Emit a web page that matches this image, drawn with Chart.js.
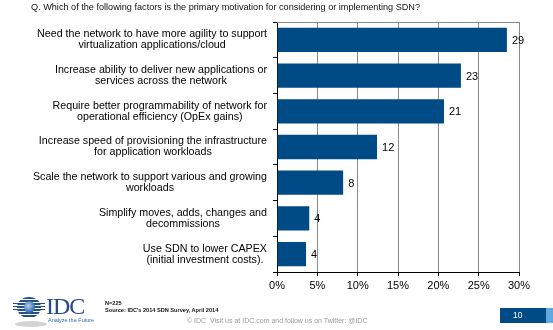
<!DOCTYPE html>
<html>
<head>
<meta charset="utf-8">
<script src="https://cdn.jsdelivr.net/npm/chart.js@4.4.1/dist/chart.umd.min.js"></script>
<style>
    body { margin: 0; background: #fff; font-family: "Liberation Sans", Arial, sans-serif; }
    #wrap { position: relative; width: 553px; height: 330px; overflow: hidden; }
    #chart { position: absolute; left: 0; top: 0; }
    .title { position: absolute; left: 31px; top: 2px; font-size: 9.15px; color: #111; white-space: nowrap; }
    .note { position: absolute; left: 105px; font-size: 5.6px; font-weight: bold; color: #111; white-space: nowrap; }
    .foot { position: absolute; left: 187px; top: 317px; font-size: 7px; color: #9a9a9a; white-space: nowrap; }
    .globe { position: absolute; left: 17px; top: 297px; width: 24px; height: 21px; border-radius: 50%;
        background: repeating-linear-gradient(to bottom, #1f4f8f 0 2px, #fff 2px 3px); }
    .globe-core { position: absolute; left: 24px; top: 301px; width: 11px; height: 12px; border-radius: 50%;
        background: radial-gradient(circle at 40% 40%, #b9d3ee, #2f67a8 70%); }
    .stripes { position: absolute; left: 13px; top: 303px; width: 32px; height: 9px;
        background: repeating-linear-gradient(to bottom, #1f4f8f 0 1px, transparent 1px 3px); }
    .shadow { position: absolute; left: 15px; top: 321px; width: 32px; height: 6px; border-radius: 50%; background: #d4d4d4; }
    .idc { position: absolute; left: 46px; top: 293px; font-family: "Liberation Serif", "DejaVu Serif", serif; font-size: 24px; color: #244a8c; letter-spacing: -1px; }
    .tag { position: absolute; left: 48px; top: 317px; font-size: 5.5px; color: #2f6db5; white-space: nowrap; }
    .page { position: absolute; left: 500px; top: 308px; width: 46px; height: 15px; background: #004a85; }
    .page span { position: absolute; left: 13px; top: 2px; font-size: 8.5px; color: #fff; }
    .page-edge { position: absolute; left: 546px; top: 308px; width: 7px; height: 15px; background: #62a8e0; }
</style>
</head>
<body>
<div id="wrap">
    <canvas id="chart" width="553" height="330"></canvas>
    <div class="title">Q. Which of the following factors is the primary motivation for considering or implementing SDN?</div>

    <div class="stripes"></div>
    <div class="globe"></div>
    <div class="globe-core"></div>
    <div class="shadow"></div>
    <div class="idc">IDC</div>
    <div class="tag">Analyze the Future</div>

    <div class="note" style="top:300px">N=225</div>
    <div class="note" style="top:307px">Source: IDC's 2014 SDN Survey, April 2014</div>
    <div class="foot">© IDC&nbsp; Visit us at IDC.com and follow us on Twitter: @IDC</div>

    <div class="page"><span>10</span></div>
    <div class="page-edge"></div>
</div>

<script>
// ---------------- Data ----------------
const factors = [
    ["Need the network to have more agility to support", "virtualization applications/cloud"],
    ["Increase ability to deliver new applications or", "services across the network"],
    ["Require better programmability of network for", "operational efficiency (OpEx gains)"],
    ["Increase speed of provisioning the infrastructure", "for application workloads"],
    ["Scale the network to support various and growing", "workloads"],
    ["Simplify moves, adds, changes and", "decommissions"],
    ["Use SDN to lower CAPEX", "(initial investment costs)."]
];
const shares = [28.5, 22.8, 20.7, 12.4, 8.2, 4.0, 3.6];
const shareLabels = ["29", "23", "21", "12", "8", "4", "4"];
const percentTicks = [0, 5, 10, 15, 20, 25, 30];

const barBlue = "#004a85";
const gridGray = "#8a8a8a";

// ---------------- Plugins ----------------
// category labels: block right aligned to the axis, lines centered inside the block
const factorLabels = {
    id: "factorLabels",
    afterDraw(chart) {
        const ctx = chart.ctx;
        const yScale = chart.scales.y;
        const right = chart.chartArea.left - 10;
        const lineH = 11;
        ctx.save();
        ctx.font = "10.7px 'Liberation Sans', Arial, sans-serif";
        ctx.fillStyle = "#000";
        ctx.textAlign = "center";
        ctx.textBaseline = "middle";
        factors.forEach(function(lines, i) {
            let widest = 0;
            lines.forEach(function(l) { widest = Math.max(widest, ctx.measureText(l).width); });
            const cx = right - widest / 2;
            const cy = yScale.getPixelForTick(i);
            const startY = cy - (lines.length - 1) * lineH / 2;
            lines.forEach(function(l, j) { ctx.fillText(l, cx, startY + j * lineH); });
        });
        ctx.restore();
    }
};

// value labels at the end of each bar + top frame line
const barValues = {
    id: "barValues",
    afterDatasetsDraw(chart) {
        const ctx = chart.ctx;
        const area = chart.chartArea;
        ctx.save();
        ctx.strokeStyle = gridGray;
        ctx.lineWidth = 1;
        ctx.beginPath();
        ctx.moveTo(area.left, Math.round(area.top) + 0.5);
        ctx.lineTo(area.right, Math.round(area.top) + 0.5);
        ctx.stroke();

        ctx.font = "11px 'Liberation Sans', Arial, sans-serif";
        ctx.fillStyle = "#000";
        ctx.textAlign = "left";
        ctx.textBaseline = "middle";
        chart.getDatasetMeta(0).data.forEach(function(bar, i) {
            ctx.fillText(shareLabels[i], bar.x + 5, bar.y + 1);
        });
        ctx.restore();
    }
};

// ---------------- Chart ----------------
new Chart(document.getElementById("chart"), {
    type: "bar",
    data: {
        labels: factors,
        datasets: [{
            data: shares,
            backgroundColor: barBlue,
            borderWidth: 0,
            barPercentage: 0.68,
            categoryPercentage: 1
        }]
    },
    options: {
        indexAxis: "y",
        responsive: false,
        animation: false,
        layout: { padding: { left: 273, right: 34, top: 22, bottom: 28 } },
        plugins: { legend: { display: false }, tooltip: { enabled: false } },
        scales: {
            x: {
                min: 0,
                max: 30,
                afterBuildTicks: function(axis) {
                    axis.ticks = percentTicks.map(function(v) { return { value: v }; });
                },
                afterFit: function(axis) { axis.height = 30; },
                grid: { color: gridGray, lineWidth: 1, tickColor: "#000", tickLength: 4 },
                border: { color: "#000", width: 1 },
                ticks: {
                    color: "#000",
                    padding: 3,
                    font: { size: 11, family: "'Liberation Sans', Arial, sans-serif" },
                    callback: function(v) { return v + "%"; }
                }
            },
            y: {
                offset: true,
                grid: { offset: true, drawOnChartArea: false, tickColor: "#000", tickLength: 4 },
                border: { color: "#000", width: 1 },
                ticks: { display: false }
            }
        }
    },
    plugins: [factorLabels, barValues]
});
</script>
</body>
</html>
